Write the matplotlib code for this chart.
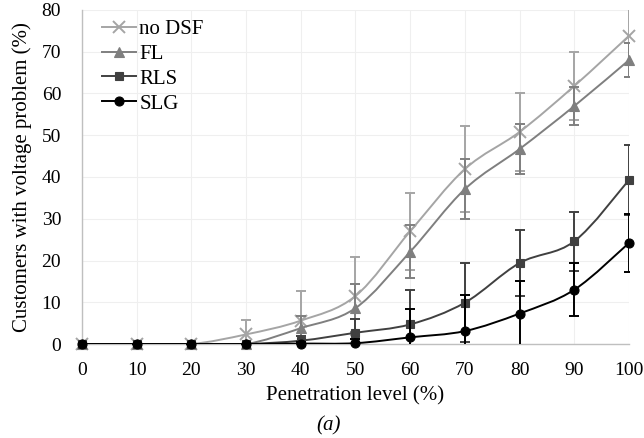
import numpy as np
import matplotlib
matplotlib.use("Agg")
import matplotlib.pyplot as plt
from matplotlib.path import Path
from matplotlib.patches import PathPatch

plt.rcParams["font.family"] = ["Liberation Serif", "DejaVu Serif"]

# Penetration level (%) and share of customers with a voltage problem (%)
penetration = [0, 10, 20, 30, 40, 50, 60, 70, 80, 90, 100]

no_dsf = [0, 0, 0, 2.3, 5.6, 11.5, 27.0, 41.9, 50.8, 61.8, 73.8]
no_dsf_err = [0, 0, 0, 3.5, 7.1, 9.3, 9.2, 10.4, 9.4, 8.1, 9.8]

fl = [0, 0, 0, 0, 3.8, 8.6, 22.1, 37.1, 46.7, 57.0, 68.0]
fl_err = [0, 0, 0, 0, 3.0, 5.8, 6.3, 7.1, 6.0, 4.5, 4.0]

rls = [0, 0, 0, 0, 0.8, 2.7, 4.7, 9.9, 19.4, 24.6, 39.3]
rls_err = [0, 0, 0, 0, 1.0, 3.2, 8.3, 9.5, 8.0, 7.0, 8.3]

slg = [0, 0, 0, 0, 0.1, 0.2, 1.6, 3.1, 7.3, 13.0, 24.2]
slg_err = [0, 0, 0, 0, 0.5, 1.0, 6.8, 8.7, 7.8, 6.4, 6.9]

series = [
    ("no DSF", no_dsf, no_dsf_err, "#A5A5A5", "x", 8),
    ("FL", fl, fl_err, "#7F7F7F", "^", 6.5),
    ("RLS", rls, rls_err, "#404040", "s", 6),
    ("SLG", slg, slg_err, "#000000", "o", 6.5),
]


def smooth_path(x, y):
    # Bezier segments through every point (spreadsheet-style smoothed line)
    pts = np.column_stack([x, y]).astype(float)
    n = len(pts)
    verts = [pts[0]]
    codes = [Path.MOVETO]
    for i in range(n - 1):
        p0 = pts[max(i - 1, 0)]
        p1 = pts[i]
        p2 = pts[i + 1]
        p3 = pts[min(i + 2, n - 1)]
        c1 = p1 + (p2 - p0) / 6.0
        c2 = p2 - (p3 - p1) / 6.0
        verts += [c1, c2, p2]
        codes += [Path.CURVE4] * 3
    return Path(verts, codes)


fig = plt.figure(figsize=(6.44, 4.38), dpi=100)
ax = fig.add_axes([0.1273, 0.2146, 0.8494, 0.7626])

for i, (name, vals, err, color, marker, ms) in enumerate(series):
    z = 3 + i
    mew = 1.4 if marker == "x" else 0.8
    ax.add_patch(PathPatch(smooth_path(penetration, vals), facecolor="none",
                           edgecolor=color, lw=1.4, zorder=z))
    ax.errorbar(penetration, vals, yerr=err, fmt="none", ecolor=color,
                elinewidth=1.4, capsize=3.5, capthick=1.4, zorder=z)
    ax.plot(penetration, vals, linestyle="none", marker=marker, ms=ms,
            color=color, mec=color, mew=mew, zorder=z + 0.5, clip_on=False)
    # legend proxy: short line with the marker in the middle
    ax.plot([], [], color=color, lw=1.4, marker=marker, ms=ms, mec=color,
            mew=mew, label=name)

ax.set_xlim(0, 100)
ax.set_ylim(0, 80)
ax.set_xticks(penetration)
ax.set_yticks(range(0, 81, 10))
ax.tick_params(length=0, labelsize=14)
ax.tick_params(axis="x", pad=13)
ax.tick_params(axis="y", pad=15)

ax.grid(True, color="#EFEFEF", lw=0.8)
ax.set_axisbelow(True)
for side in ("top", "right"):
    ax.spines[side].set_visible(False)
for side in ("left", "bottom"):
    ax.spines[side].set_color("#BFBFBF")
    ax.spines[side].set_linewidth(1.0)

ax.set_xlabel("Penetration level (%)", fontsize=15, labelpad=5)
ax.set_ylabel("Customers with voltage problem (%)", fontsize=15, labelpad=7)

ax.legend(loc="upper left", bbox_to_anchor=(0.025, 0.99), frameon=False,
          fontsize=15, handlelength=1.65, handletextpad=0.15,
          labelspacing=0.25, borderaxespad=0.0, borderpad=0.3)

fig.text(0.51, 0.018, "(a)", fontsize=15, style="italic", ha="center")

fig.savefig("out.png", dpi=100)
